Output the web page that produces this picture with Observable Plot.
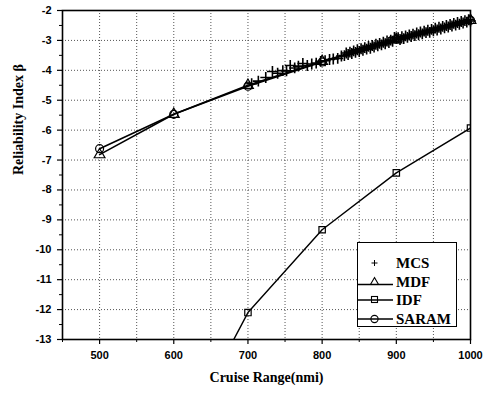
<!DOCTYPE html>
<html><head><meta charset="utf-8">
<script src="https://cdn.jsdelivr.net/npm/d3@7"></script>
<script src="https://cdn.jsdelivr.net/npm/@observablehq/plot@0.6"></script>
<style>
html,body{margin:0;padding:0;background:#fff;}
#wrap{position:relative;width:488px;height:393px;}
#legend{position:absolute;left:357px;top:242px;width:100px;height:85px;border:1px solid #000;background:#fff;box-sizing:border-box;font-family:"Liberation Serif",serif;font-weight:bold;font-size:15px;color:#000;}
.row{position:absolute;left:-1px;height:18px;display:flex;align-items:center;}
.row svg{display:block;}
.row span{margin-left:3px;line-height:18px;}
</style></head><body><div id="wrap"></div>
<script>
// ---- data ----
const xTicks = [500, 600, 700, 800, 900, 1000];
const xMinor = [450, 550, 650, 750, 850, 950];
const xGrid = [500, 550, 600, 650, 700, 750, 800, 850, 900, 950];
const yTicks = [-2, -3, -4, -5, -6, -7, -8, -9, -10, -11, -12, -13];
const yMinor = [-2.5, -3.5, -4.5, -5.5, -6.5, -7.5, -8.5, -9.5, -10.5, -11.5, -12.5];
const yGrid = [-3, -4, -5, -6, -7, -8, -9, -10, -11, -12];

const rangeX = [500, 600, 700, 800, 900, 1000];
const mdfY = [-6.82, -5.47, -4.5, -3.7, -2.98, -2.33];
const saramY = [-6.62, -5.47, -4.53, -3.72, -2.96, -2.33];
const idfX = [600, 700, 800, 900, 1000];
const idfY = [-16.8, -12.1, -9.33, -7.43, -5.93];

const mcsX = [705, 714, 724, 733, 740, 747, 752, 757, 763, 768, 774, 780, 786, 792, 798, 804, 810, 815, 821, 826,
  830, 832.5, 835, 837.5, 840, 842.5, 845, 847.5, 850, 852.5, 855, 857.5, 860, 862.5, 865, 867.5, 870, 872.5, 875, 877.5,
  880, 882.5, 885, 887.5, 890, 892.5, 895, 897.5, 900, 902.5, 905, 907.5, 910, 912.5, 915, 917.5, 920, 922.5, 925, 927.5,
  930, 932.5, 935, 937.5, 940, 942.5, 945, 947.5, 950, 952.5, 955, 957.5, 960, 962.5, 965, 967.5, 970, 972.5, 975, 977.5,
  980, 982.5, 985, 987.5, 990, 992.5, 995, 997.5, 1000];
const mcsY = [-4.45, -4.36, -4.24, -4.04, -4.1, -4.01, -4.02, -3.84, -3.92, -3.86, -3.77, -3.84, -3.79, -3.76, -3.7, -3.68, -3.64, -3.62, -3.6, -3.52,
  -3.51, -3.42, -3.47, -3.39, -3.44, -3.35, -3.40, -3.31, -3.37, -3.28, -3.33, -3.24, -3.29, -3.20, -3.26, -3.17, -3.22, -3.13, -3.18, -3.10,
  -3.15, -3.06, -3.11, -3.02, -3.07, -2.99, -3.03, -2.90, -2.92, -2.91, -2.97, -2.88, -2.94, -2.85, -2.90, -2.82, -2.87, -2.79, -2.84, -2.75,
  -2.81, -2.72, -2.78, -2.69, -2.74, -2.66, -2.73, -2.63, -2.68, -2.59, -2.65, -2.56, -2.62, -2.53, -2.58, -2.50, -2.55, -2.47, -2.52, -2.43,
  -2.49, -2.40, -2.46, -2.37, -2.42, -2.34, -2.39, -2.31, -2.35];

// ---- tables ----
const mdf = rangeX.map((x, i) => ({x, y: mdfY[i]}));
const saram = rangeX.map((x, i) => ({x, y: saramY[i]}));
const idf = idfX.map((x, i) => ({x, y: idfY[i]}));
const mcs = mcsX.map((x, i) => ({x, y: mcsY[i]}));

const fmt = d => String(d);
const gridStyle = {stroke: "#555", strokeDasharray: "1,2", strokeWidth: 1};

const chart = Plot.plot({
  width: 488, height: 393,
  marginLeft: 62, marginRight: 18, marginTop: 10, marginBottom: 54,
  style: {fontFamily: "Liberation Sans, Arial, sans-serif", fontSize: "11px", fontWeight: "bold", background: "white", color: "black"},
  x: {domain: [450, 1000]},
  y: {domain: [-13, -2]},
  marks: [
    Plot.ruleX(xGrid, gridStyle),
    Plot.ruleY(yGrid, gridStyle),
    Plot.axisX({ticks: xMinor, tickSize: 3, tickFormat: () => "", label: null}),
    Plot.axisX({ticks: xTicks, tickSize: 5, tickPadding: 7, tickFormat: fmt, label: null, strokeWidth: 1.2}),
    Plot.axisY({ticks: yMinor, tickSize: 3, tickFormat: () => "", label: null}),
    Plot.axisY({ticks: yTicks, tickSize: 5, tickPadding: 6, tickFormat: fmt, label: null, strokeWidth: 1.2}),
    Plot.line(mdf, {x: "x", y: "y", stroke: "black", strokeWidth: 1.6}),
    Plot.line(saram, {x: "x", y: "y", stroke: "black", strokeWidth: 1.6}),
    Plot.line(idf, {x: "x", y: "y", stroke: "black", strokeWidth: 1.4, clip: true}),
    Plot.dot(mcs, {x: "x", y: "y", symbol: "plus", r: 3.6, stroke: "black", strokeWidth: 1.6}),
    Plot.dot(mdf, {x: "x", y: "y", symbol: "triangle", r: 4, stroke: "black", fill: "none", strokeWidth: 1.2}),
    Plot.dot(saram, {x: "x", y: "y", symbol: "circle", r: 4, stroke: "black", fill: "none", strokeWidth: 1.2}),
    Plot.dot(idf, {x: "x", y: "y", symbol: "square", r: 3.6, stroke: "black", fill: "none", strokeWidth: 1.2, clip: true}),
    Plot.frame({stroke: "black", strokeWidth: 1.6}),
    Plot.text(["Reliability Index β"], {frameAnchor: "left", dx: -44, rotate: -90, text: d => d,
      fontFamily: "Liberation Serif, serif", fontSize: 14, fontWeight: "bold"}),
    Plot.text(["Cruise Range(nmi)"], {frameAnchor: "bottom", dy: 42, text: d => d,
      fontFamily: "Liberation Serif, serif", fontSize: 14, fontWeight: "bold"})
  ]
});
const wrap = document.getElementById("wrap");
wrap.appendChild(chart);

// ---- legend ----
const legendItems = [
  {name: "MCS", symbol: "plus", line: false},
  {name: "MDF", symbol: "triangle", line: true},
  {name: "IDF", symbol: "square", line: true},
  {name: "SARAM", symbol: "circle", line: true}
];
const legend = document.createElement("div");
legend.id = "legend";
const rowTops = [11, 30, 48, 67];
legendItems.forEach((it, i) => {
  const row = document.createElement("div");
  row.className = "row";
  row.style.top = rowTops[i] + "px";
  let sym = "";
  if (it.symbol === "plus") sym = '<path d="M14.5,9H20.5M17.5,6V12" stroke="black" stroke-width="1"/>';
  if (it.symbol === "triangle") sym = '<path d="M17.5,4.5L21.5,11.5H13.5Z" fill="none" stroke="black" stroke-width="1.1"/>';
  if (it.symbol === "square") sym = '<rect x="14.5" y="5.5" width="6" height="6" fill="none" stroke="black" stroke-width="1.1"/>';
  if (it.symbol === "circle") sym = '<circle cx="17.5" cy="9" r="3.6" fill="none" stroke="black" stroke-width="1.1"/>';
  const ly = it.symbol === "triangle" ? 11.5 : 9;
  const line = it.line ? '<line x1="0" x2="36" y1="' + ly + '" y2="' + ly + '" stroke="black" stroke-width="1.4"/>' : "";
  row.innerHTML = '<svg width="36" height="18">' + line + sym + '</svg><span>' + it.name + '</span>';
  legend.appendChild(row);
});
wrap.appendChild(legend);
</script>
</body></html>
